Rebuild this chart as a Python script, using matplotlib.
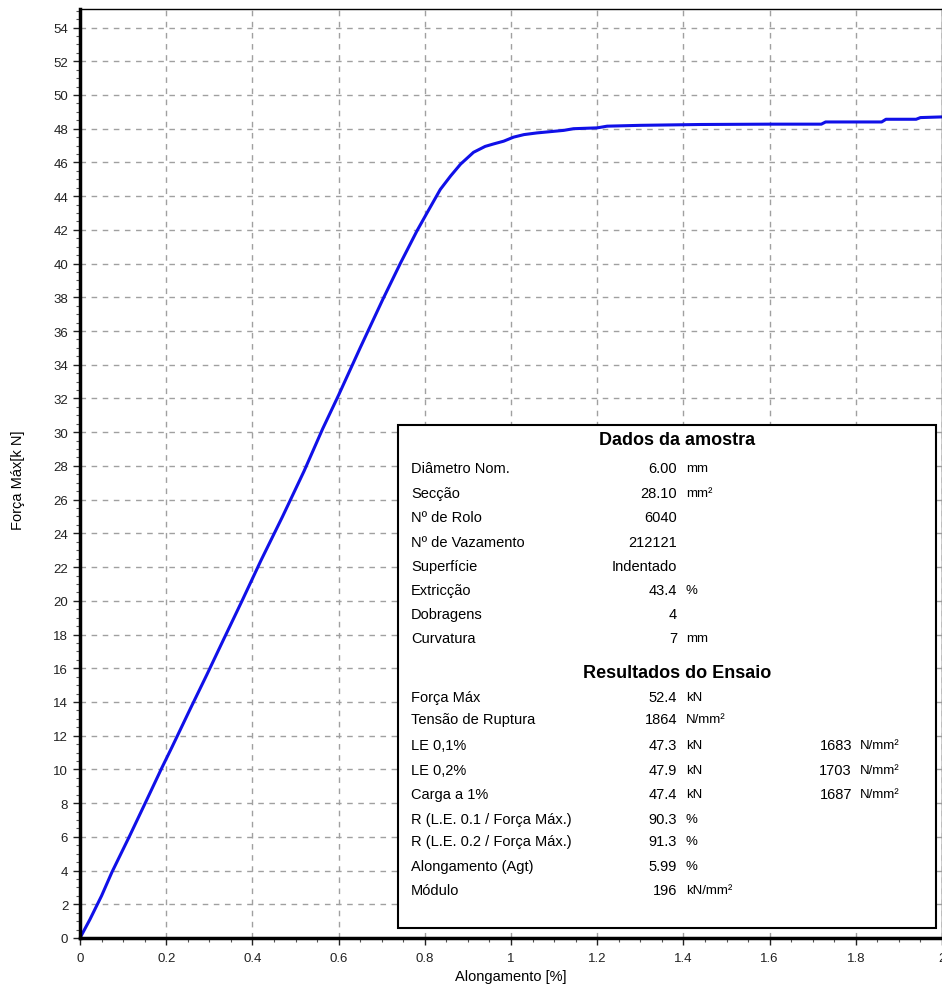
import matplotlib
matplotlib.use("Agg")
from matplotlib import pyplot as plt
from matplotlib.patches import Rectangle
from matplotlib.ticker import MultipleLocator

plt.rcParams["font.family"] = ["Liberation Sans", "DejaVu Sans"]

# tensile curve: elongation [%] vs force [kN]
elongation = [0, 0.023, 0.05, 0.074, 0.116, 0.155, 0.19, 0.213, 0.256, 0.294,
              0.333, 0.376, 0.42, 0.47, 0.52, 0.563, 0.6, 0.65, 0.703, 0.743,
              0.782, 0.805, 0.836, 0.86, 0.883, 0.913, 0.94, 0.96, 0.983,
              1.006, 1.03, 1.06, 1.122, 1.145, 1.2, 1.223, 1.3, 1.44, 1.6,
              1.72, 1.73, 1.86, 1.87, 1.94, 1.95, 2.0]
force = [0, 1.1, 2.5, 3.9, 6.1, 8.2, 10.1, 11.3, 13.6, 15.6,
         17.7, 20.0, 22.4, 25.0, 27.7, 30.2, 32.2, 35.0, 37.9, 40.0,
         41.95, 43.0, 44.4, 45.2, 45.9, 46.6, 46.95, 47.1, 47.26,
         47.5, 47.65, 47.75, 47.9, 48.0, 48.05, 48.15, 48.2, 48.25, 48.27,
         48.27, 48.4, 48.4, 48.56, 48.56, 48.66, 48.7]

x_ticks = [0, 0.2, 0.4, 0.6, 0.8, 1, 1.2, 1.4, 1.6, 1.8, 2]
x_tick_labels = ["0", "0.2", "0.4", "0.6", "0.8", "1", "1.2", "1.4", "1.6", "1.8", "2"]
y_ticks = list(range(0, 56, 2))

sample_title = "Dados da amostra"
sample_labels = ["Diâmetro Nom.", "Secção", "Nº de Rolo", "Nº de Vazamento",
                 "Superfície", "Extricção", "Dobragens", "Curvatura"]
sample_values = ["6.00", "28.10", "6040", "212121", "Indentado", "43.4", "4", "7"]
sample_units = ["mm", "mm²", "", "", "", "%", "", "mm"]

results_title = "Resultados do Ensaio"
results_labels = ["Força Máx", "Tensão de Ruptura", "LE 0,1%", "LE 0,2%",
                  "Carga a 1%", "R (L.E. 0.1 / Força Máx.)",
                  "R (L.E. 0.2 / Força Máx.)", "Alongamento (Agt)", "Módulo"]
results_values = ["52.4", "1864", "47.3", "47.9", "47.4", "90.3", "91.3", "5.99", "196"]
results_units = ["kN", "N/mm²", "kN", "kN", "kN", "%", "%", "%", "kN/mm²"]
stress_values = ["", "", "1683", "1703", "1687", "", "", "", ""]
stress_units = ["", "", "N/mm²", "N/mm²", "N/mm²", "", "", "", ""]

W, H = 942, 987
fig = plt.figure(figsize=(W / 100, H / 100), dpi=100)
ax = fig.add_axes([80 / W, 1 - 939 / H, 862 / W, 929 / H])

ax.plot(elongation, force, color="#1010e8", linewidth=2.2, zorder=2)

ax.set_xlim(0, 2.0)
ax.set_ylim(0, 55.1)
ax.set_xticks(x_ticks)
ax.set_xticklabels(x_tick_labels)
ax.set_yticks(y_ticks)
ax.xaxis.set_minor_locator(MultipleLocator(0.05))
ax.yaxis.set_minor_locator(MultipleLocator(0.5))
ax.tick_params(which="major", length=5, width=1, labelsize=9.5, colors="#222222")
ax.tick_params(which="minor", length=3, width=0.8, colors="#555555")
ax.tick_params(axis="x", pad=5)

ax.grid(True, which="major", linestyle=(0, (4, 4)), color="#a0a0a0", linewidth=1)

for side in ["left", "bottom"]:
    ax.spines[side].set_linewidth(2.5)
for side in ["top", "right"]:
    ax.spines[side].set_linewidth(1)

fig.text(511 / W, 1 - 977 / H, "Alongamento [%]", ha="center", va="center", fontsize=10.5)
fig.text(18 / W, 1 - 480 / H, "Força Máx[k N]", ha="center", va="center",
         rotation=90, fontsize=10.5)

# results box
box = Rectangle((398 / W, 1 - 929 / H), 538 / W, 503 / H, transform=fig.transFigure,
                facecolor="white", edgecolor="black", linewidth=1.5, zorder=3)
fig.patches.append(box)


def put(x, y, s, **kw):
    fig.text(x / W, 1 - y / H, s, va="center", zorder=4, **kw)


put(677, 441, sample_title, ha="center", fontsize=13, fontweight="bold")
sample_rows = [469, 494, 518, 543, 567, 591, 615, 639]
for y, lab, val, unit in zip(sample_rows, sample_labels, sample_values, sample_units):
    put(411, y, lab, ha="left", fontsize=10.5)
    put(677, y, val, ha="right", fontsize=10.5)
    put(686, y, unit, ha="left", fontsize=9.5)

put(677, 673, results_title, ha="center", fontsize=13, fontweight="bold")
results_rows = [698, 720, 746, 771, 795, 820, 842, 867, 891]
for y, lab, val, unit, sval, sunit in zip(results_rows, results_labels, results_values,
                                         results_units, stress_values, stress_units):
    put(411, y, lab, ha="left", fontsize=10.5)
    put(677, y, val, ha="right", fontsize=10.5)
    put(686, y, unit, ha="left", fontsize=9.5)
    if sval:
        put(852, y, sval, ha="right", fontsize=10.5)
        put(860, y, sunit, ha="left", fontsize=9.5)

fig.savefig("out.png", dpi=100)
